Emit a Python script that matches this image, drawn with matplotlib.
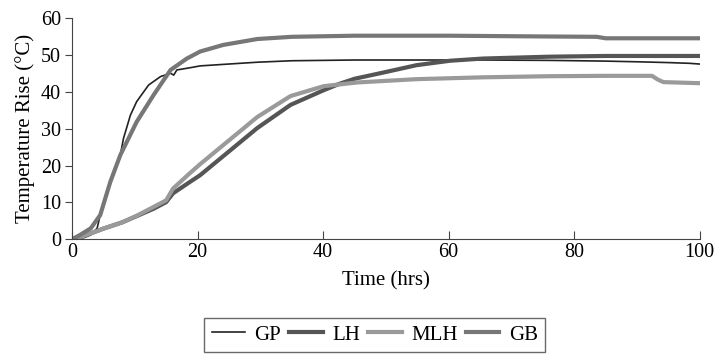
import numpy as np
import matplotlib.pyplot as plt

plt.rcParams['font.family'] = ['Liberation Serif', 'DejaVu Serif']

# time (hrs) and temperature rise (°C)
gp_t = [0, 2, 3, 4, 4.5, 6, 7.6, 8.2, 9.3, 10.3, 12.2, 14.1, 15.7, 16.2, 16.7, 18.8, 20.4, 24, 29.5, 35, 45, 55, 65, 76, 85, 90.5, 95, 98.4, 100]
gp_y = [0, 0.5, 1.2, 3, 6.6, 14.5, 22, 27.4, 33.7, 37.4, 41.9, 44.2, 45.1, 44.6, 46, 46.6, 47.1, 47.5, 48.1, 48.5, 48.7, 48.7, 48.7, 48.6, 48.4, 48.2, 48, 47.8, 47.6]

lh_t = [0, 2, 5, 8, 10.3, 13, 15, 16.1, 18.8, 20.4, 24.1, 29.5, 34.8, 40.1, 42.7, 45, 49.6, 54.9, 60.2, 65.5, 76, 85, 100]
lh_y = [0, 1, 2.9, 4.6, 6.3, 8.3, 10.1, 12.5, 15.6, 17.4, 22.6, 30.2, 36.5, 40.5, 42.3, 43.6, 45.3, 47.3, 48.5, 49.1, 49.6, 49.8, 49.8]

mlh_t = [0, 2, 5, 8, 10.3, 13, 15, 16.1, 18.8, 20.4, 24.1, 29.5, 34.8, 40.1, 45.4, 54.9, 65.5, 76, 85, 92.4, 93.3, 94.2, 100]
mlh_y = [0, 1, 2.9, 4.6, 6.4, 8.8, 10.6, 13.8, 18, 20.4, 25.6, 33.2, 38.9, 41.6, 42.6, 43.5, 44, 44.3, 44.4, 44.4, 43.4, 42.7, 42.4]

gb_t = [0, 1.3, 3, 4.5, 6.1, 7.7, 10.3, 13, 15.7, 18.3, 20.4, 24.1, 29.5, 35, 45, 60, 75, 83.6, 85, 100]
gb_y = [0, 1.2, 3, 6.6, 15.6, 22.9, 31.9, 39.2, 46, 49.1, 51, 52.8, 54.4, 55, 55.3, 55.3, 55.1, 55, 54.6, 54.6]

fig = plt.figure(figsize=(7.15, 3.54), dpi=100)
ax = fig.add_axes([0.1007, 0.324, 0.878, 0.624])

ax.plot(gp_t, gp_y, color='#222222', lw=1.2, label='GP')
ax.plot(lh_t, lh_y, color='#555555', lw=3, label='LH')
ax.plot(mlh_t, mlh_y, color='#9a9a9a', lw=3, label='MLH')
ax.plot(gb_t, gb_y, color='#777777', lw=3, label='GB')

ax.set_xlim(0, 100)
ax.set_ylim(0, 60)
ax.set_xticks(range(0, 101, 20))
ax.set_yticks(range(0, 61, 10))
ax.tick_params(axis='x', direction='in', labelsize=14.5, length=6, color='#444444', pad=3)
ax.tick_params(axis='y', direction='out', labelsize=14.5, length=5, color='#444444', pad=3)
ax.spines['top'].set_visible(False)
ax.spines['right'].set_visible(False)
ax.spines['left'].set_color('#444444')
ax.spines['bottom'].set_color('#444444')
ax.set_xlabel('Time (hrs)', fontsize=15, labelpad=6)
ax.set_ylabel('Temperature Rise (°C)', fontsize=15, labelpad=4)

leg = fig.legend(loc='upper center', bbox_to_anchor=(0.524, 0.102), ncol=4,
                 frameon=True, fancybox=False, fontsize=15, handlelength=1.6,
                 columnspacing=0.4, handletextpad=0.45, borderpad=0.35,
                 borderaxespad=0)
leg.get_frame().set_edgecolor('#444444')
leg.get_frame().set_linewidth(1)

plt.savefig('out.png', dpi=100)
